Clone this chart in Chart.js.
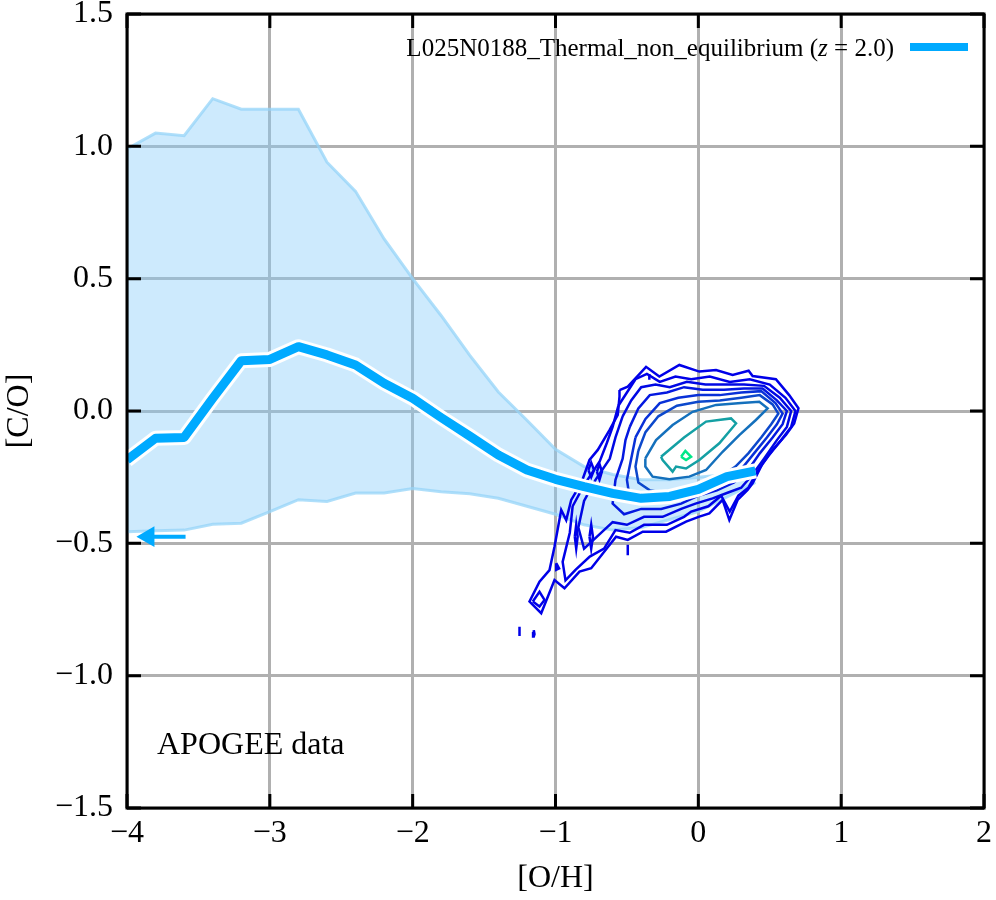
<!DOCTYPE html>
<html>
<head>
<meta charset="utf-8">
<script src="https://cdn.jsdelivr.net/npm/chart.js@4"></script>
<style>
  body { margin: 0; background: #fff; }
  canvas { display: block; }
</style>
</head>
<body>
<canvas id="chart" width="996" height="900"></canvas>
<script>
const ctx = document.getElementById("chart");

// [O/H] bins of the simulation curve
const ohBins = [-4.0, -3.8, -3.6, -3.4, -3.2, -3.0, -2.8, -2.6, -2.4, -2.2, -2.0, -1.8,
  -1.6, -1.4, -1.2, -1.0, -0.8, -0.6, -0.4, -0.2, 0.0, 0.2, 0.4];
const coMedian = [-0.185, -0.103, -0.10, 0.048, 0.19, 0.195, 0.243, 0.212, 0.174, 0.105, 0.048, -0.025,
  -0.095, -0.166, -0.223, -0.258, -0.286, -0.311, -0.33, -0.323, -0.296, -0.248, -0.226];
const coUpper = [0.99, 1.05, 1.04, 1.18, 1.14, 1.14, 1.14, 0.94, 0.83, 0.65, 0.50, 0.36,
  0.21, 0.072, -0.035, -0.145, -0.21, -0.24, -0.26, -0.26, -0.25, -0.24, -0.25];
const coLower = [-0.456, -0.452, -0.45, -0.428, -0.424, -0.38, -0.335, -0.342, -0.31, -0.31, -0.293, -0.305,
  -0.313, -0.33, -0.36, -0.39, -0.43, -0.45, -0.44, -0.41, -0.38, -0.325, -0.27];

// arrow (upper limit marker) at the left edge
const arrowX = [-3.59, -3.85];
const arrowY = [-0.475, -0.475];

const xTicks = [-4, -3, -2, -1, 0, 1, 2];
const yTicks = [-1.5, -1.0, -0.5, 0.0, 0.5, 1.0, 1.5];

// APOGEE contours, outermost first: [O/H], [C/O] pairs
const contour1 = [[-0.552, 0.079], [-0.494, 0.092], [-0.366, 0.167], [-0.273, 0.130], [-0.133, 0.174],
  [0.007, 0.149], [0.124, 0.155], [0.240, 0.136], [0.352, 0.152], [0.380, 0.132], [0.543, 0.120],
  [0.636, 0.060], [0.701, 0.010], [0.671, -0.047], [0.613, -0.091], [0.520, -0.147], [0.450, -0.198],
  [0.380, -0.273], [0.345, -0.298], [0.275, -0.336], [0.217, -0.412], [0.170, -0.336], [0.077, -0.387],
  [0.007, -0.399], [-0.086, -0.418], [-0.226, -0.456], [-0.389, -0.456], [-0.494, -0.487], [-0.576, -0.475],
  [-0.750, -0.594], [-0.832, -0.607], [-0.937, -0.670], [-1.007, -0.639], [-1.100, -0.764], [-1.182, -0.720],
  [-1.112, -0.645], [-1.042, -0.601], [-1.007, -0.513], [-0.960, -0.374], [-0.925, -0.412], [-0.890, -0.336],
  [-0.820, -0.273], [-0.762, -0.185], [-0.704, -0.147], [-0.622, -0.072], [-0.564, -0.015], [-0.552, 0.054],
  [-0.552, 0.079]];
const contour2 = [[-0.56, 0.02], [-0.50, 0.07], [-0.44, 0.12], [-0.36, 0.14], [-0.27, 0.11], [-0.16, 0.13],
  [-0.05, 0.12], [0.08, 0.13], [0.22, 0.11], [0.36, 0.12], [0.50, 0.10], [0.61, 0.05], [0.68, 0.00],
  [0.65, -0.06], [0.58, -0.11], [0.49, -0.17], [0.41, -0.23], [0.35, -0.29], [0.28, -0.32], [0.22, -0.38],
  [0.16, -0.32], [0.07, -0.36], [-0.05, -0.38], [-0.10, -0.40], [-0.22, -0.43], [-0.38, -0.43], [-0.48, -0.46],
  [-0.58, -0.45], [-0.66, -0.52], [-0.76, -0.55], [-0.86, -0.60], [-0.93, -0.64], [-0.95, -0.57], [-0.90, -0.46],
  [-0.88, -0.36], [-0.80, -0.28], [-0.69, -0.19], [-0.64, -0.12], [-0.60, -0.06], [-0.56, 0.02]];
const contour3 = [[-0.53, -0.02], [-0.47, 0.04], [-0.40, 0.09], [-0.30, 0.10], [-0.20, 0.09], [-0.08, 0.11],
  [0.05, 0.10], [0.18, 0.10], [0.32, 0.10], [0.46, 0.095], [0.57, 0.05], [0.65, 0.00], [0.62, -0.06],
  [0.55, -0.11], [0.46, -0.18], [0.38, -0.24], [0.30, -0.29], [0.20, -0.31], [0.10, -0.33], [-0.02, -0.35],
  [-0.12, -0.37], [-0.25, -0.40], [-0.38, -0.40], [-0.50, -0.43], [-0.60, -0.42], [-0.70, -0.47], [-0.80, -0.52],
  [-0.84, -0.44], [-0.80, -0.34], [-0.72, -0.26], [-0.62, -0.18], [-0.58, -0.10], [-0.53, -0.02]];
const contour4 = [[-0.48, -0.06], [-0.42, 0.01], [-0.34, 0.06], [-0.22, 0.07], [-0.10, 0.09], [0.03, 0.08],
  [0.18, 0.08], [0.32, 0.085], [0.45, 0.085], [0.55, 0.04], [0.62, 0.00], [0.59, -0.05], [0.52, -0.10],
  [0.43, -0.16], [0.34, -0.23], [0.25, -0.27], [0.13, -0.30], [0.00, -0.32], [-0.12, -0.35], [-0.26, -0.37],
  [-0.40, -0.37], [-0.52, -0.39], [-0.60, -0.35], [-0.58, -0.26], [-0.53, -0.18], [-0.51, -0.11], [-0.48, -0.06]];
const contour5 = [[-0.44, -0.10], [-0.37, -0.03], [-0.27, 0.03], [-0.14, 0.05], [0.00, 0.06], [0.15, 0.06],
  [0.30, 0.07], [0.44, 0.075], [0.54, 0.03], [0.59, -0.01], [0.55, -0.05], [0.48, -0.10], [0.39, -0.16],
  [0.30, -0.22], [0.20, -0.26], [0.08, -0.29], [-0.04, -0.31], [-0.10, -0.32], [-0.24, -0.34], [-0.37, -0.34],
  [-0.48, -0.33], [-0.50, -0.26], [-0.47, -0.18], [-0.44, -0.10]];
const contour6 = [[-0.42, -0.15], [-0.37, -0.08], [-0.28, -0.02], [-0.15, 0.02], [0.00, 0.035], [0.15, 0.04],
  [0.30, 0.05], [0.43, 0.06], [0.52, 0.025], [0.56, -0.01], [0.51, -0.05], [0.44, -0.10], [0.35, -0.16],
  [0.26, -0.21], [0.15, -0.25], [0.03, -0.28], [-0.10, -0.30], [-0.22, -0.31], [-0.34, -0.30], [-0.42, -0.27],
  [-0.44, -0.21], [-0.42, -0.15]];
const contour7 = [[-0.371, -0.179], [-0.296, -0.110], [-0.180, -0.053], [-0.040, -0.003], [0.124, 0.023],
  [0.30, 0.03], [0.427, 0.035], [0.485, 0.010], [0.403, -0.034], [0.287, -0.091], [0.170, -0.154],
  [0.054, -0.223], [-0.063, -0.248], [-0.203, -0.258], [-0.320, -0.248], [-0.371, -0.210], [-0.371, -0.179]];
const contour8 = [[-0.261, -0.173], [-0.10, -0.10], [0.054, -0.040], [0.229, -0.028], [0.264, -0.047],
  [0.147, -0.122], [0.007, -0.185], [-0.086, -0.217], [-0.156, -0.210], [-0.180, -0.229], [-0.250, -0.185],
  [-0.261, -0.173]];
const contour9 = [[-0.121, -0.173], [-0.091, -0.151], [-0.051, -0.173], [-0.086, -0.185], [-0.121, -0.173]];

// small isolated contour islands (outer level)
const islands = [
  [[-0.77, -0.223], [-0.750, -0.195], [-0.73, -0.223], [-0.750, -0.25], [-0.77, -0.223]],
  [[-0.71, -0.229], [-0.692, -0.20], [-0.675, -0.229], [-0.692, -0.26], [-0.71, -0.229]],
  [[-0.865, -0.475], [-0.855, -0.43], [-0.845, -0.475], [-0.855, -0.52], [-0.865, -0.475]],
  [[-0.762, -0.475], [-0.750, -0.43], [-0.738, -0.475], [-0.750, -0.52], [-0.762, -0.475]],
  [[-0.995, -0.575], [-0.975, -0.595], [-0.995, -0.600], [-0.995, -0.575]],
  [[-1.159, -0.720], [-1.112, -0.683], [-1.077, -0.714], [-1.112, -0.739], [-1.159, -0.720]],
  [[-0.494, -0.505], [-0.494, -0.545]],
  [[-1.252, -0.815], [-1.252, -0.850]],
  [[-1.157, -0.835], [-1.152, -0.828], [-1.147, -0.843], [-1.152, -0.852], [-1.157, -0.835]],
  [[-0.343, 0.140], [-0.343, 0.118]],
];

const contourLevels = [contour1, contour2, contour3, contour4, contour5, contour6, contour7, contour8, contour9];
const contourColors = ["#0000e8", "#0000e8", "#0008e4", "#0418e0", "#0830d8", "#0c48cc", "#1470bc", "#14a0a4", "#00e888"];

const toPoints = (pairs) => pairs.map((p) => ({ x: p[0], y: p[1] }));
const zipPoints = (xs, ys) => xs.map((x, i) => ({ x: x, y: ys[i] }));

const SERIF = "'Liberation Serif', 'DejaVu Serif', serif";
const LINE_BLUE = "#00aaff";
const fmt = (v, digits) => {
  const s = Math.abs(v).toFixed(digits);
  return v < -1e-9 ? "\u2212" + s : s;
};

const datasets = [];

// arrow
datasets.push({
  data: zipPoints(arrowX, arrowY),
  showLine: true,
  borderColor: LINE_BLUE,
  borderWidth: 4,
  pointRadius: [0, 12],
  pointStyle: "triangle",
  rotation: 270,
  pointBackgroundColor: LINE_BLUE,
  pointBorderColor: LINE_BLUE,
  pointBorderWidth: 0,
  order: 0,
});

// median with white casing
datasets.push({
  data: zipPoints(ohBins, coMedian),
  showLine: true,
  borderColor: LINE_BLUE,
  borderWidth: 9,
  borderJoinStyle: "round",
  pointRadius: 0,
  order: 1,
});
datasets.push({
  data: zipPoints(ohBins, coMedian),
  showLine: true,
  borderColor: "#ffffff",
  borderWidth: 15,
  borderJoinStyle: "round",
  pointRadius: 0,
  order: 2,
});

// contours
contourLevels.forEach((lvl, i) => {
  datasets.push({
    data: toPoints(lvl),
    showLine: true,
    borderColor: contourColors[i],
    borderWidth: 2.5,
    pointRadius: 0,
    tension: 0,
    order: 20 - i,
  });
});
islands.forEach((isl) => {
  datasets.push({
    data: toPoints(isl),
    showLine: true,
    borderColor: contourColors[0],
    borderWidth: 2.5,
    pointRadius: 0,
    order: 21,
  });
});

// 1-sigma band
datasets.push({
  data: zipPoints(ohBins, coUpper),
  showLine: true,
  borderColor: "rgba(150,212,248,0.75)",
  borderWidth: 3,
  pointRadius: 0,
  fill: false,
  order: 30,
});
datasets.push({
  data: zipPoints(ohBins, coLower),
  showLine: true,
  borderColor: "rgba(150,212,248,0.75)",
  borderWidth: 3,
  pointRadius: 0,
  fill: "-1",
  backgroundColor: "rgba(135,206,250,0.42)",
  order: 31,
});

const framePlugin = {
  id: "frame",
  afterDraw(chart) {
    const c = chart.ctx;
    const a = chart.chartArea;
    const xs = chart.scales.x;
    const ys = chart.scales.y;
    c.save();
    c.strokeStyle = "#000";
    c.lineWidth = 3;
    c.strokeRect(a.left, a.top, a.right - a.left, a.bottom - a.top);
    c.beginPath();
    xTicks.forEach((t) => {
      const px = xs.getPixelForValue(t);
      c.moveTo(px, a.bottom); c.lineTo(px, a.bottom - 14);
      c.moveTo(px, a.top); c.lineTo(px, a.top + 14);
    });
    yTicks.forEach((t) => {
      const py = ys.getPixelForValue(t);
      c.moveTo(a.left, py); c.lineTo(a.left + 14, py);
      c.moveTo(a.right, py); c.lineTo(a.right - 14, py);
    });
    c.stroke();

    // legend
    c.fillStyle = "#000";
    c.textBaseline = "middle";
    const ly = a.top + 33;
    const lineR = a.right - 16;
    const lineL = lineR - 58;
    c.strokeStyle = LINE_BLUE;
    c.lineWidth = 8;
    c.beginPath();
    c.moveTo(lineL, ly); c.lineTo(lineR, ly);
    c.stroke();
    const parts = [
      { t: "L025N0188_Thermal_non_equilibrium (", f: "25px " + SERIF },
      { t: "z", f: "italic 25px " + SERIF },
      { t: " = 2.0)", f: "25px " + SERIF },
    ];
    let w = 0;
    parts.forEach((p) => { c.font = p.f; w += c.measureText(p.t).width; });
    let tx = lineL - 16 - w;
    c.textAlign = "left";
    parts.forEach((p) => { c.font = p.f; c.fillText(p.t, tx, ly + 2); tx += c.measureText(p.t).width; });

    // annotation
    c.font = "32px " + SERIF;
    c.fillText("APOGEE data", a.left + 30, a.bottom - 62);
    c.restore();
  },
};

new Chart(ctx, {
  type: "scatter",
  data: { datasets: datasets },
  options: {
    responsive: false,
    animation: false,
    devicePixelRatio: 1,
    layout: { padding: { top: 14, right: 11, left: 0, bottom: 0 } },
    plugins: { legend: { display: false }, tooltip: { enabled: false } },
    scales: {
      x: {
        type: "linear",
        min: -4,
        max: 2,
        afterFit: (s) => { s.height = 92; s.paddingLeft = 0; s.paddingRight = 0; },
        afterBuildTicks: (s) => { s.ticks = xTicks.map((v) => ({ value: v })); },
        ticks: {
          color: "#000",
          padding: 6,
          font: { family: SERIF, size: 32 },
          callback: (v) => fmt(v, 0),
        },
        grid: { color: "#b0b0b0", lineWidth: 3, drawTicks: false },
        border: { display: false },
        title: { display: true, text: "[O/H]", color: "#000", font: { family: SERIF, size: 32 }, padding: { top: 0, bottom: 2 } },
      },
      y: {
        type: "linear",
        min: -1.5,
        max: 1.5,
        afterFit: (s) => { s.width = 127; s.paddingTop = 0; s.paddingBottom = 0; },
        afterBuildTicks: (s) => { s.ticks = yTicks.map((v) => ({ value: v })); },
        ticks: {
          color: "#000",
          padding: 14,
          font: { family: SERIF, size: 32 },
          callback: (v) => fmt(v, 1),
        },
        grid: { color: "#b0b0b0", lineWidth: 3, drawTicks: false },
        border: { display: false },
        title: { display: true, text: "[C/O]", color: "#000", font: { family: SERIF, size: 32 }, padding: { top: 0, bottom: 4 } },
      },
    },
  },
  plugins: [framePlugin],
});
</script>
</body>
</html>
